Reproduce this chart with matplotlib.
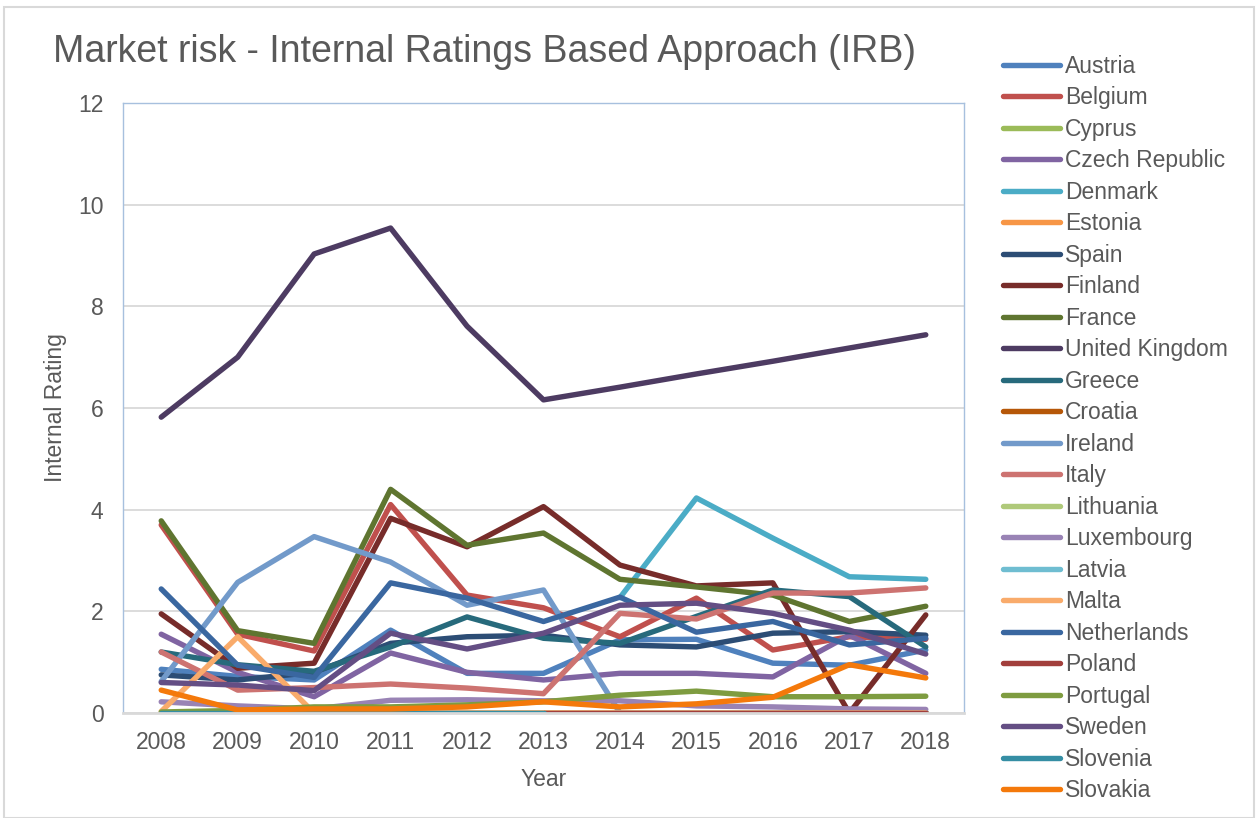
"""Market risk IRB line chart, Excel-style look."""

import numpy as np
import matplotlib
matplotlib.use("Agg")
import matplotlib.pyplot as plt
from matplotlib.patches import Rectangle

nan = np.nan

years = [2008, 2009, 2010, 2011, 2012, 2013, 2014, 2015, 2016, 2017, 2018]

austria = [0.86, 0.72, 0.65, 1.63, 0.78, 0.78, 1.44, 1.45, 0.98, 0.94, 1.24]
belgium = [3.70, 1.55, 1.22, 4.10, 2.32, 2.07, 1.50, 2.26, 1.24, 1.50, 1.45]
cyprus = [0, 0, 0, 0, 0, 0, 0, 0, 0, 0, 0]
czech = [1.55, 0.80, 0.32, 1.18, 0.80, 0.65, 0.78, 0.78, 0.71, 1.53, 0.78]
denmark = [nan, nan, nan, nan, nan, nan, 2.27, 4.23, 3.44, 2.68, 2.63]
estonia = [0, 0, 0, 0, 0, 0, 0, 0, 0, 0, 0]
spain = [0.75, 0.65, 0.80, 1.37, 1.50, 1.53, 1.34, 1.30, 1.57, 1.60, 1.53]
finland = [1.95, 0.88, 0.98, 3.83, 3.27, 4.06, 2.91, 2.50, 2.56, 0.00, 1.93]
france = [3.78, 1.62, 1.37, 4.40, 3.30, 3.54, 2.63, 2.48, 2.32, 1.80, 2.10]
uk = [5.82, 7.00, 9.03, 9.54, 7.61, 6.16, 6.41, 6.67, 6.92, 7.18, 7.44]
greece = [1.20, 0.95, 0.82, 1.30, 1.89, 1.47, 1.37, 1.90, 2.42, 2.29, 1.30]
croatia = [0, 0, 0, 0, 0, 0, 0, 0, 0, 0, 0]
ireland = [0.62, 2.57, 3.47, 2.97, 2.12, 2.42, 0, 0, 0, 0, 0]
italy = [1.20, 0.45, 0.50, 0.57, 0.49, 0.38, 1.96, 1.85, 2.36, 2.36, 2.46]
lithuania = [0, 0, 0, 0, 0, 0, 0, 0, 0, 0, 0]
luxembourg = [0.22, 0.14, 0.08, 0.25, 0.26, 0.24, 0.24, 0.14, 0.12, 0.08, 0.07]
latvia = [0, 0, 0, 0, 0, 0, 0, 0, 0, 0, 0]
malta = [0.03, 1.50, 0, 0, 0, 0, 0, 0, 0, 0, 0]
netherlands = [2.44, 0.94, 0.70, 2.56, 2.26, 1.80, 2.28, 1.59, 1.80, 1.34, 1.47]
poland = [nan, nan, nan, nan, nan, 0, 0, 0, 0, 0, 0]
portugal = [0.02, 0.05, 0.12, 0.12, 0.16, 0.22, 0.35, 0.43, 0.32, 0.32, 0.33]
sweden = [0.60, 0.55, 0.44, 1.57, 1.26, 1.57, 2.12, 2.16, 1.96, 1.63, 1.16]
slovenia = [0, 0, 0, 0, 0, 0, nan, nan, nan, nan, nan]
slovakia = [0.45, 0.06, 0.08, 0.08, 0.12, 0.22, 0.12, 0.18, 0.31, 0.95, 0.69]

countries = [
    "Austria", "Belgium", "Cyprus", "Czech Republic", "Denmark", "Estonia",
    "Spain", "Finland", "France", "United Kingdom", "Greece", "Croatia",
    "Ireland", "Italy", "Lithuania", "Luxembourg", "Latvia", "Malta",
    "Netherlands", "Poland", "Portugal", "Sweden", "Slovenia", "Slovakia",
]
series = [
    austria, belgium, cyprus, czech, denmark, estonia,
    spain, finland, france, uk, greece, croatia,
    ireland, italy, lithuania, luxembourg, latvia, malta,
    netherlands, poland, portugal, sweden, slovenia, slovakia,
]

_PALETTE = [
    "#4F81BD", "#C0504D", "#9BBB59", "#8064A2", "#4BACC6", "#F79646",
    "#2C4D75", "#772C2A", "#5F7530", "#4D3B62", "#276A7C", "#B65708",
    "#729ACA", "#CD7371", "#AFC97A", "#9983B5", "#6FBDD1", "#F9AB6B",
    "#3A67A0", "#A23F3C", "#7E9C40", "#644E84", "#358EA4", "#F4790B",
]

TEXT = "#595959"
W, H = 1258, 818

plt.rcParams["font.family"] = ["Liberation Sans", "DejaVu Sans"]

fig = plt.figure(figsize=(W / 100, H / 100), dpi=100)

# chart area border
fig.patches.append(Rectangle((4 / W, 0), (W - 8) / W, (H - 7) / H,
                             transform=fig.transFigure, fill=False,
                             edgecolor="#D9D9D9", linewidth=1.5))

ax = fig.add_axes([123 / W, 1 - 713 / H, (964 - 123) / W, (713 - 103) / H])

for name, values, colour in zip(countries, series, _PALETTE):
    ax.plot(years, values, color=colour, linewidth=3.9, label=name,
            solid_capstyle="round", solid_joinstyle="round")

ax.set_xlim(2007.5, 2018.5)
ax.set_ylim(0, 12)
ax.set_xticks(years)
ax.set_yticks(range(0, 13, 2))
ax.grid(axis="y", color="#D9D9D9", linewidth=1.3)
ax.set_axisbelow(True)
ax.tick_params(length=0, labelsize=16.5, labelcolor=TEXT)
ax.tick_params(axis="y", pad=14)
ax.tick_params(axis="x", pad=13)

for side in ("left", "right", "top"):
    ax.spines[side].set_color("#A7C0DE")
    ax.spines[side].set_linewidth(1.0)
ax.spines["bottom"].set_color("#D9D9D9")
ax.spines["bottom"].set_linewidth(2.0)

ax.set_xlabel("Year", fontsize=16.5, color=TEXT, labelpad=10)
fig.text(56 / W, 1 - 408 / H, "Internal Rating", rotation=90, fontsize=16.5,
         color=TEXT, ha="center", va="center")

fig.text(53 / W, 1 - 62 / H, "Market risk - Internal Ratings Based Approach (IRB)",
         fontsize=27, color=TEXT, ha="left", va="baseline")

fig.legend(loc="upper left", bbox_to_anchor=(1003 / W, 1 - 55 / H),
           frameon=False, fontsize=16.5, labelcolor=TEXT,
           handlelength=2.5, handletextpad=0.2, labelspacing=0.37,
           borderaxespad=0, borderpad=0)

fig.savefig("out.png", dpi=100)
